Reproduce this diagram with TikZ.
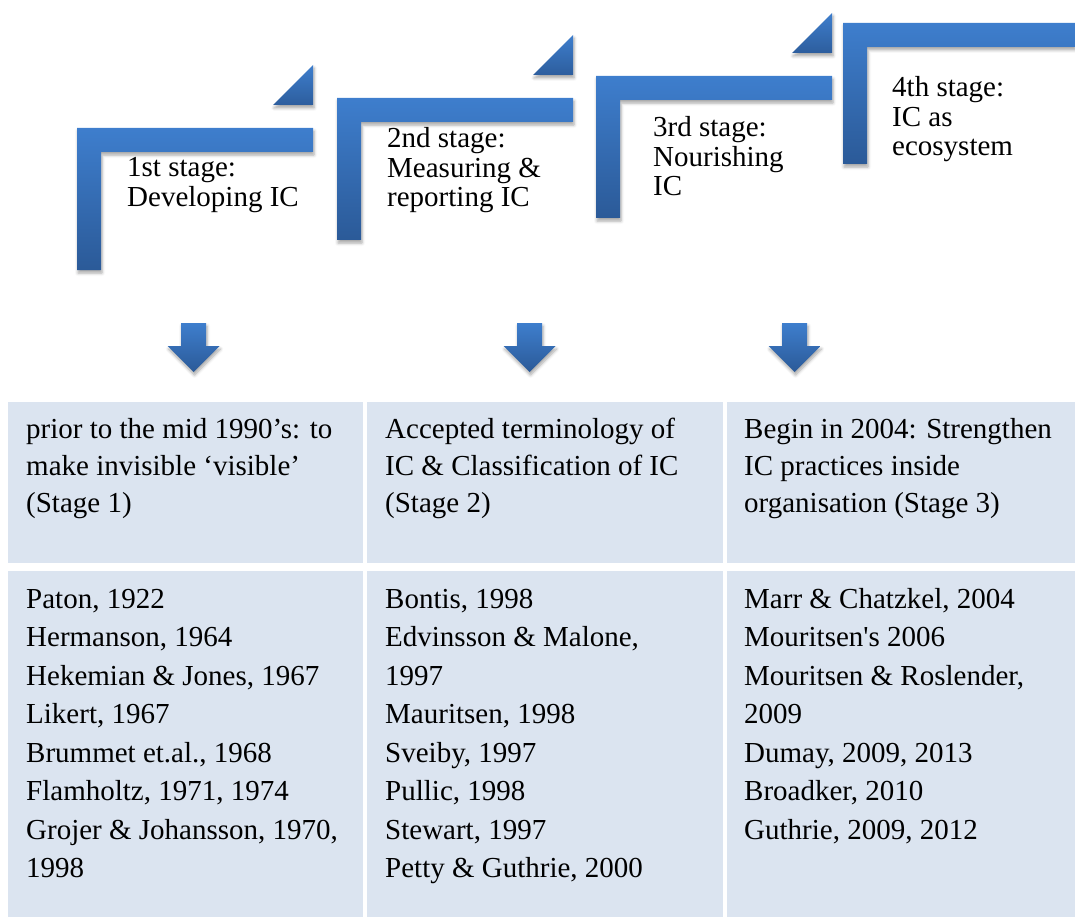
\documentclass[tikz,border=0pt]{standalone}
\usepackage{fontspec}
\setmainfont{Liberation Serif}
\usetikzlibrary{shadows.blur}

\definecolor{stepLight}{HTML}{3E7ECD}
\definecolor{stepDark}{HTML}{2B5A98}
\definecolor{cellBlue}{HTML}{DBE4F0}

% L-shaped step of the staircase: #1 left, #2 top, #3 right, #4 bottom
\newcommand\stepshape[4]{%
  \path[stepfill] (#1,#2) -- (#3,#2) -- (#3,#2+24) -- (#1+24,#2+24)
      -- (#1+24,#4) -- (#1,#4) -- cycle;}
% small corner triangle above the right end of a step
\newcommand\steptriangle[2]{%
  \path[trifill] (#1-40,#2-23) -- (#1,#2-23) -- (#1,#2-63) -- cycle;}
% downward block arrow centred on #1
\newcommand\blockdown[1]{%
  \path[arrowfill] (#1-12.5,323) -- (#1+12.5,323) -- (#1+12.5,346)
      -- (#1+26,346) -- (#1,372) -- (#1-26,346) -- (#1-12.5,346) -- cycle;}

\begin{document}
\begin{tikzpicture}[x=1pt,y=-1pt,
  softshadow/.style={blur shadow={shadow xshift=1pt,shadow yshift=-3pt,
      shadow blur radius=3pt,shadow opacity=35}},
  stepfill/.style={top color=stepLight,bottom color=stepDark,softshadow},
  trifill/.style={top color=stepLight,bottom color=stepDark!90!stepLight,softshadow},
  arrowfill/.style={top color=stepLight,bottom color=stepDark,softshadow},
  stagetext/.style={anchor=base west,inner sep=0pt,
      font=\fontsize{29}{29.5}\selectfont},
  cell/.style={fill=cellBlue,draw=none,inner sep=0pt,anchor=north west},
  headtext/.style={anchor=base west,inner sep=0pt,
      font=\fontsize{29}{37}\selectfont},
  celltext/.style={anchor=base west,inner sep=0pt,
      font=\fontsize{29}{38.5}\selectfont},
]
\useasboundingbox (0,0) rectangle (1075,917);

% staircase of stages
\stepshape{77}{128}{313}{270}
\steptriangle{313}{128}
\stepshape{337}{98}{573}{240}
\steptriangle{573}{98}
\stepshape{596}{76}{832}{218}
\steptriangle{832}{76}
\stepshape{843}{23}{1075}{164}

\node[stagetext] (s1) at (127,177) {\parbox[t]{200pt}{\raggedright 1st stage:\\Developing IC}};
\node[stagetext] (s2) at (387,148) {\parbox[t]{200pt}{\raggedright 2nd stage:\\Measuring \&\\reporting IC}};
\node[stagetext] (s3) at (653,137) {\parbox[t]{180pt}{\raggedright 3rd stage:\\Nourishing\\IC}};
\node[stagetext] (s4) at (892,97) {\parbox[t]{180pt}{\raggedright 4th stage:\\IC as\\ecosystem}};

% arrows pointing into the table
\blockdown{193.5}
\blockdown{529.5}
\blockdown{794.5}

% table cells
\node[cell,minimum width=355pt,minimum height=161pt] (c11) at (8,402) {};
\node[cell,minimum width=356pt,minimum height=161pt] (c12) at (367,402) {};
\node[cell,minimum width=348pt,minimum height=161pt] (c13) at (727,402) {};
\node[cell,minimum width=355pt,minimum height=346pt] (c21) at (8,571) {};
\node[cell,minimum width=356pt,minimum height=346pt] (c22) at (367,571) {};
\node[cell,minimum width=348pt,minimum height=346pt] (c23) at (727,571) {};

% table text
\node[headtext] (t11) at (26,438) {\parbox[t]{330pt}{\raggedright prior to the mid 1990’s: to\\make invisible ‘visible’\\(Stage 1)}};
\node[headtext] (t12) at (385,438) {\parbox[t]{330pt}{\raggedright Accepted terminology of\\IC \& Classification of IC\\(Stage 2)}};
\node[headtext] (t13) at (744,438) {\parbox[t]{330pt}{\raggedright Begin in 2004: Strengthen\\IC practices inside\\organisation (Stage 3)}};

\node[celltext] (t21) at (26,608) {\parbox[t]{330pt}{\raggedright Paton, 1922\\Hermanson, 1964\\Hekemian \& Jones, 1967\\Likert, 1967\\Brummet et.al., 1968\\Flamholtz, 1971, 1974\\Grojer \& Johansson, 1970,\\1998}};
\node[celltext] (t22) at (385,608) {\parbox[t]{330pt}{\raggedright Bontis, 1998\\Edvinsson \& Malone,\\1997\\Mauritsen, 1998\\Sveiby, 1997\\Pullic, 1998\\Stewart, 1997\\Petty \& Guthrie, 2000}};
\node[celltext] (t23) at (744,608) {\parbox[t]{330pt}{\raggedright Marr \& Chatzkel, 2004\\Mouritsen\textquotesingle s 2006\\Mouritsen \& Roslender,\\2009\\Dumay, 2009, 2013\\Broadker, 2010\\Guthrie, 2009, 2012}};
\end{tikzpicture}
\end{document}
